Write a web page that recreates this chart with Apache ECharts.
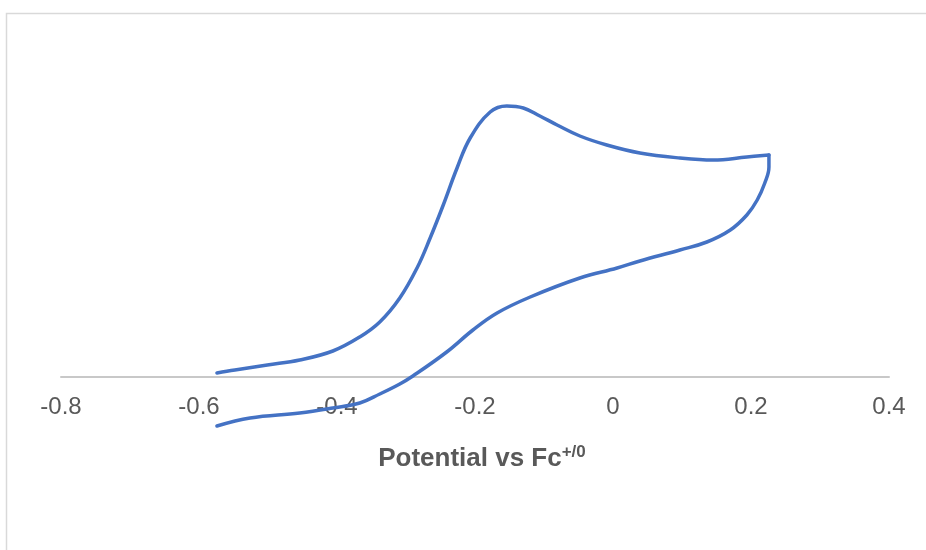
<!DOCTYPE html>
<html>
<head>
<meta charset="utf-8">
<script src="https://cdn.jsdelivr.net/npm/echarts@6/dist/echarts.min.js"></script>
<style>
html,body{margin:0;padding:0;background:#fff;}
#chart{width:926px;height:550px;}
</style>
</head>
<body>
<div id="chart"></div>
<script>
// Forward (anodic) scan: potential (V vs Fc+/0) and current (arbitrary units)
const forwardPotential = [-0.574,-0.548,-0.501,-0.454,-0.406,-0.367,-0.338,-0.309,-0.284,-0.265,-0.246,-0.226,-0.207,-0.178,-0.154,-0.130,-0.106,-0.081,-0.048,-0.009,0.039,0.097,0.145,0.194,0.226];
const forwardCurrent   = [0.4,0.7,1.2,1.7,2.6,4.0,5.5,7.9,10.9,13.9,17.2,20.9,23.9,26.5,27.1,26.9,26.1,25.2,24.1,23.2,22.4,21.9,21.7,22.0,22.2];
// Reverse scan
const reversePotential = [0.226,0.226,0.220,0.209,0.194,0.170,0.136,0.097,0.039,0.006,-0.048,-0.120,-0.168,-0.203,-0.241,-0.290,-0.309,-0.338,-0.367,-0.406,-0.454,-0.526,-0.574];
const reverseCurrent   = [22.2,21.0,19.4,17.7,16.2,14.7,13.5,12.7,11.6,10.9,9.9,8.0,6.4,4.7,2.5,0.1,-0.7,-1.7,-2.6,-3.1,-3.6,-4.1,-4.9];

const xTicks = [-0.8,-0.6,-0.4,-0.2,0,0.2,0.4];

const zip = (a,b)=>a.map((v,i)=>[v,b[i]]);

const chart = echarts.init(document.getElementById('chart'), null, {renderer:'canvas'});
const lineColor = '#4472C4';
const font = 'Liberation Sans, Arial, sans-serif';
chart.setOption({
  animation:false,
  backgroundColor:'#ffffff',
  graphic:[{
    type:'rect', silent:true, z:-10,
    shape:{x:6.5,y:13.5,width:1000,height:1000},
    style:{fill:'none',stroke:'#d9d9d9',lineWidth:1.5}
  }],
  grid:{left:61,right:37,top:37,bottom:173,outerBoundsMode:'none',containLabel:false},
  xAxis:{
    type:'value',
    min:xTicks[0], max:xTicks[xTicks.length-1], interval:0.2,
    splitLine:{show:false},
    axisTick:{show:false},
    axisLine:{onZero:false,lineStyle:{color:'#c8c8c8',width:2}},
    axisLabel:{color:'#595959',fontSize:24,fontFamily:font,margin:18,
      formatter:v=>String(Math.round(v*10)/10)},
    name:'{m|Potential vs Fc}{s|+/0}',
    nameLocation:'middle',
    nameGap:67,
    nameTextStyle:{
      padding:[0,0,0,14],
      rich:{
        m:{fontSize:26,fontWeight:'bold',color:'#595959',fontFamily:font,lineHeight:30},
        s:{fontSize:17,fontWeight:'bold',color:'#595959',fontFamily:font,lineHeight:17,verticalAlign:'top'}
      }
    }
  },
  yAxis:{
    type:'value', min:0, max:34, show:false, splitLine:{show:false}
  },
  series:[
    {type:'line',data:zip(forwardPotential,forwardCurrent),smooth:0.4,showSymbol:false,clip:false,
     lineStyle:{color:lineColor,width:3.5,cap:'round',join:'round'}},
    {type:'line',data:zip(reversePotential,reverseCurrent),smooth:0.4,showSymbol:false,clip:false,
     lineStyle:{color:lineColor,width:3.5,cap:'round',join:'round'}}
  ]
});
</script>
</body>
</html>
